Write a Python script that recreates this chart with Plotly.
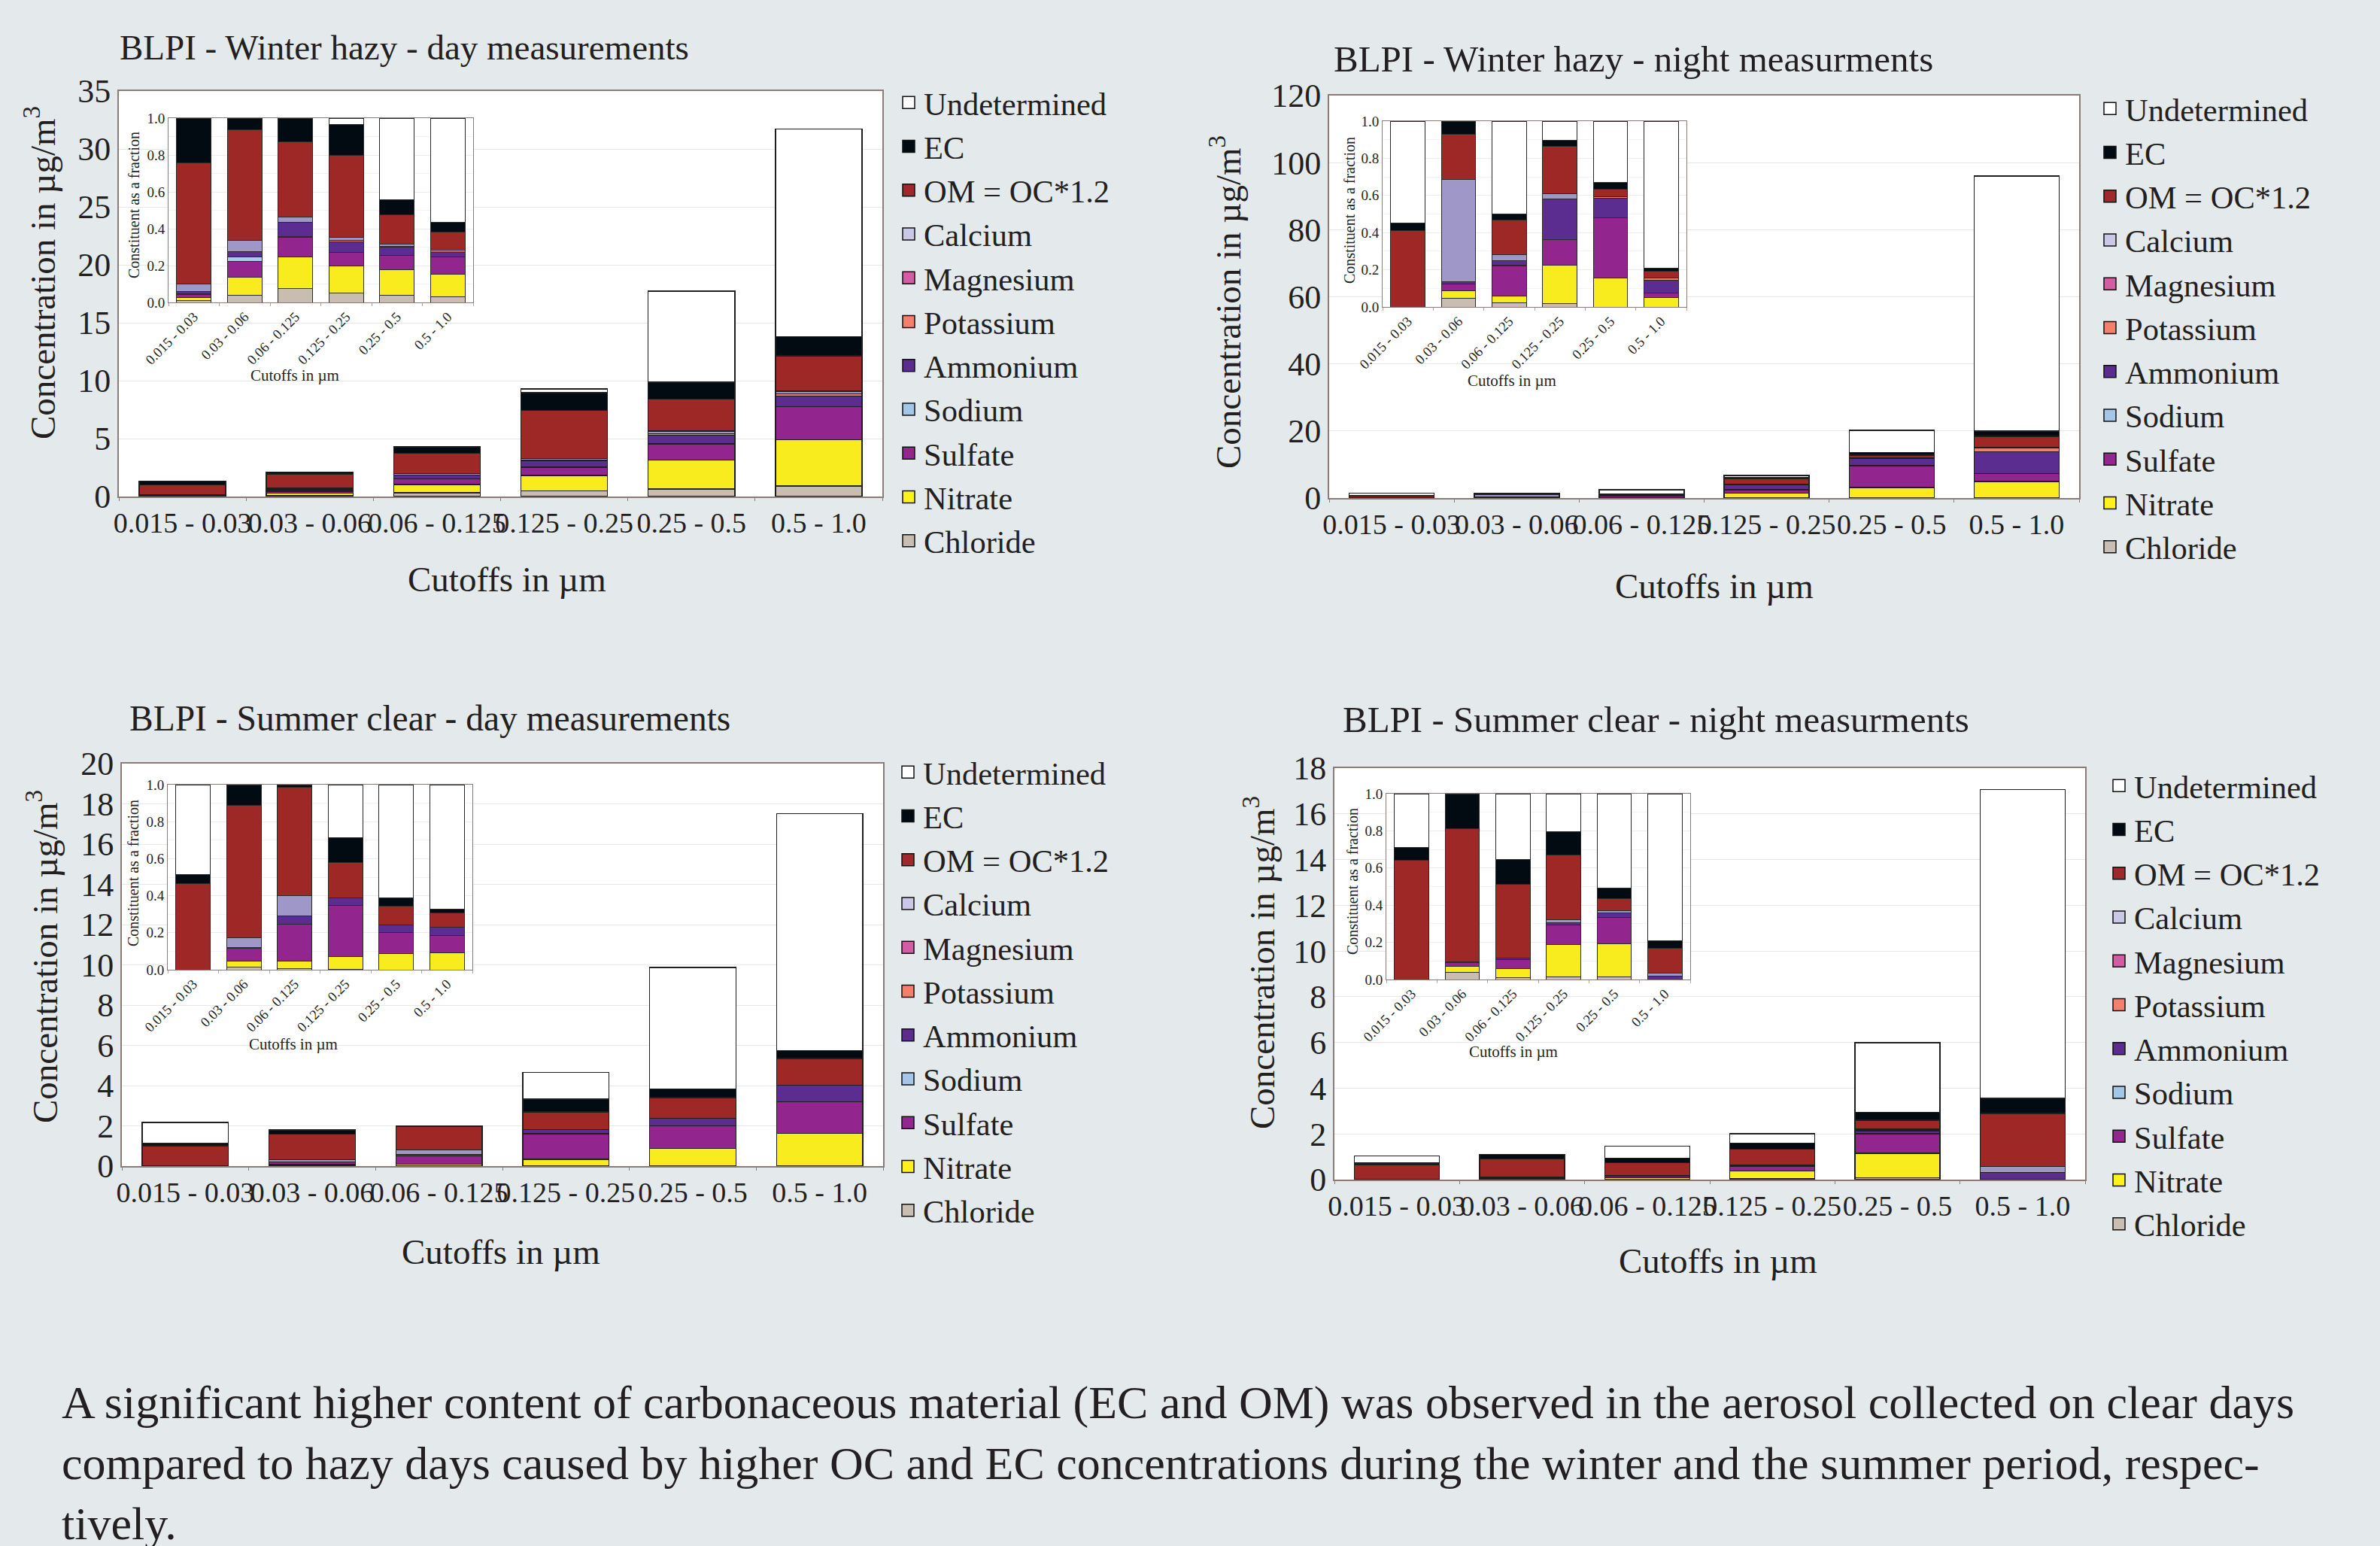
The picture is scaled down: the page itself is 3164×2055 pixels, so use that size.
import numpy as np
import plotly.graph_objects as go

W, H = 3164, 2055
SERIF = "Liberation Serif"
INK = "#231F20"
FRAME = "#8C7C78"

cutoffs = ["0.015 - 0.03", "0.03 - 0.06", "0.06 - 0.125",
           "0.125 - 0.25", "0.25 - 0.5", "0.5 - 1.0"]

# stacking order, bottom to top
constituents = ["Chloride", "Nitrate", "Sulfate", "Sodium", "Ammonium",
                "Potassium", "Magnesium", "Calcium", "OM = OC*1.2", "EC",
                "Undetermined"]

bar_colors = {
    "Chloride": "#C8BDB0", "Nitrate": "#F8EC1E", "Sulfate": "#93268E",
    "Sodium": "#A8CCEA", "Ammonium": "#5B2D90", "Potassium": "#F28068",
    "Magnesium": "#D25EA6", "Calcium": "#A097C9", "OM = OC*1.2": "#9E2825",
    "EC": "#020B12", "Undetermined": "#FFFFFF",
}
legend_colors = {
    "Chloride": "#C9BEB1", "Nitrate": "#FFF21C", "Sulfate": "#93278F",
    "Sodium": "#A4C6E8", "Ammonium": "#5B2C8E", "Potassium": "#F47F6B",
    "Magnesium": "#D35DA5", "Calcium": "#C9C8E6", "OM = OC*1.2": "#A1282A",
    "EC": "#000A12", "Undetermined": "#FFFFFF",
}

# concentrations in ug/m3, one value per cutoff
winter_day = {
    "Chloride":     [0.011, 0.082, 0.330, 0.493, 0.656, 0.920],
    "Nitrate":      [0.024, 0.206, 0.725, 1.330, 2.482, 3.995],
    "Sulfate":      [0.022, 0.183, 0.459, 0.716, 1.418, 2.854],
    "Sodium":       [0.007, 0.044, 0.017, 0.0, 0.0, 0.0],
    "Ammonium":     [0.016, 0.061, 0.335, 0.530, 0.745, 0.888],
    "Potassium":    [0.0, 0.0, 0.0, 0.056, 0.124, 0.222],
    "Magnesium":    [0.0, 0.0, 0.0, 0.0, 0.0, 0.0],
    "Calcium":      [0.053, 0.134, 0.116, 0.158, 0.213, 0.222],
    "OM = OC*1.2":  [0.869, 1.254, 1.759, 4.148, 2.766, 3.044],
    "EC":           [0.319, 0.137, 0.549, 1.544, 1.472, 1.649],
    "Undetermined": [0.0, 0.0, 0.0, 0.326, 7.854, 17.916],
}
winter_night = {
    "Chloride":     [0.0, 0.068, 0.054, 0.121, 0.0, 0.0],
    "Nitrate":      [0.0, 0.059, 0.091, 1.387, 3.171, 4.896],
    "Sulfate":      [0.0, 0.052, 0.397, 0.918, 6.525, 2.400],
    "Sodium":       [0.0, 0.0, 0.010, 0.0, 0.0, 0.0],
    "Ammonium":     [0.0, 0.020, 0.056, 1.474, 2.141, 6.528],
    "Potassium":    [0.0, 0.0, 0.0, 0.0, 0.121, 1.248],
    "Magnesium":    [0.0, 0.0, 0.0, 0.0, 0.0, 0.0],
    "Calcium":      [0.0, 0.796, 0.081, 0.188, 0.0, 0.0],
    "OM = OC*1.2":  [0.595, 0.354, 0.456, 1.709, 0.828, 3.360],
    "EC":           [0.062, 0.100, 0.083, 0.208, 0.768, 1.536],
    "Undetermined": [0.793, 0.0, 1.223, 0.697, 6.646, 76.032],
}
summer_day = {
    "Chloride":     [0.0, 0.025, 0.014, 0.019, 0.0, 0.0],
    "Nitrate":      [0.0, 0.056, 0.076, 0.316, 0.878, 1.628],
    "Sulfate":      [0.0, 0.126, 0.408, 1.274, 1.125, 1.576],
    "Sodium":       [0.0, 0.0, 0.0, 0.0, 0.0, 0.0],
    "Ammonium":     [0.0, 0.007, 0.082, 0.205, 0.375, 0.823],
    "Potassium":    [0.0, 0.0, 0.0, 0.0, 0.0, 0.0],
    "Magnesium":    [0.0, 0.0, 0.0, 0.0, 0.0, 0.0],
    "Calcium":      [0.0, 0.095, 0.227, 0.0, 0.0, 0.0],
    "OM = OC*1.2":  [1.009, 1.289, 1.170, 0.884, 1.017, 1.313],
    "EC":           [0.104, 0.202, 0.032, 0.623, 0.434, 0.403],
    "Undetermined": [1.048, 0.0, 0.0, 1.330, 6.040, 11.767],
}
summer_night = {
    "Chloride":     [0.0, 0.043, 0.016, 0.028, 0.084, 0.0],
    "Nitrate":      [0.0, 0.034, 0.070, 0.348, 1.072, 0.0],
    "Sulfate":      [0.0, 0.024, 0.072, 0.214, 0.845, 0.0],
    "Sodium":       [0.0, 0.0, 0.0, 0.0, 0.0, 0.0],
    "Ammonium":     [0.0, 0.003, 0.012, 0.020, 0.138, 0.307],
    "Potassium":    [0.0, 0.0, 0.0, 0.0, 0.0, 0.0],
    "Magnesium":    [0.0, 0.0, 0.0, 0.0, 0.0, 0.0],
    "Calcium":      [0.0, 0.0, 0.0, 0.034, 0.072, 0.273],
    "OM = OC*1.2":  [0.660, 0.796, 0.577, 0.694, 0.389, 2.322],
    "EC":           [0.072, 0.209, 0.197, 0.252, 0.347, 0.649],
    "Undetermined": [0.298, 0.0, 0.517, 0.410, 3.043, 13.519],
}

titles = ["BLPI - Winter hazy - day measurements",
          "BLPI - Winter hazy - night measurments",
          "BLPI - Summer clear - day measurements",
          "BLPI - Summer clear - night measurments"]
y_max = [35, 120, 20, 18]
y_step = [5, 20, 2, 2]

caption = ("A significant higher content of carbonaceous material (EC and OM) was observed in the aerosol collected on clear days<br>"
           "compared to hazy days caused by higher OC and EC concentrations during the winter and the summer period, respec-<br>"
           "tively.")

# page layout, in pixels: (left, right, top, bottom)
panels = [
    dict(data=winter_day, main=(158, 1173, 121, 660), inset=(224, 629, 157, 402),
         title_xy=(157, 63), title_size=47, ytitle_xy=(54, 363), xtitle_xy=(674, 770),
         iytitle_xy=(178, 273), ixtitle_xy=(392, 499), legend_xy=(1188, 102)),
    dict(data=winter_night, main=(1767, 2764, 127, 662), inset=(1838, 2242, 161, 408),
         title_xy=(1771, 79), title_size=49, ytitle_xy=(1630, 402), xtitle_xy=(2279, 779),
         iytitle_xy=(1794, 279), ixtitle_xy=(2010, 506), legend_xy=(2785, 110)),
    dict(data=summer_day, main=(162, 1174, 1015, 1550), inset=(223, 628, 1043, 1289),
         title_xy=(170, 955), title_size=47.5, ytitle_xy=(56, 1272), xtitle_xy=(666, 1664),
         iytitle_xy=(177, 1161), ixtitle_xy=(390, 1388), legend_xy=(1187, 992)),
    dict(data=summer_night, main=(1774, 2772, 1021, 1568), inset=(1843, 2247, 1055, 1302),
         title_xy=(1783, 957), title_size=49, ytitle_xy=(1674, 1280), xtitle_xy=(2284, 1676),
         iytitle_xy=(1798, 1172), ixtitle_xy=(2012, 1398), legend_xy=(2797, 1010)),
]


def px(x):
    return x / W


def py(y):
    return 1 - y / H


def axis_ids(n):
    return ("x" if n == 1 else f"x{n}"), ("y" if n == 1 else f"y{n}")


fig = go.Figure()
layout = {}
annotations = []

for k, p in enumerate(panels):
    data = p["data"]
    m, n = 2 * k + 1, 2 * k + 2
    mx, my = axis_ids(m)
    ix, iy = axis_ids(n)
    totals = np.sum([data[c] for c in constituents], axis=0)

    for c in constituents:
        vals = np.array(data[c], dtype=float)
        main_y = [v if v > 0 else None for v in vals]
        frac_y = [v if v > 0 else None for v in vals / totals]
        fig.add_bar(x=cutoffs, y=main_y, xaxis=mx, yaxis=my, name=c,
                    marker=dict(color=bar_colors[c], line=dict(color="#1E1E1E", width=1.5)),
                    showlegend=False)
        fig.add_bar(x=cutoffs, y=frac_y, xaxis=ix, yaxis=iy, name=c,
                    marker=dict(color=bar_colors[c], line=dict(color="#2A2A2A", width=1)),
                    showlegend=False)

    leg_id = "legend" if k == 0 else f"legend{k + 1}"
    for c in constituents[::-1]:
        fig.add_scatter(x=[None], y=[None], xaxis=mx, yaxis=my, mode="markers", name=c,
                        legend=leg_id, showlegend=True,
                        marker=dict(symbol="square", size=16, color=legend_colors[c],
                                    line=dict(color="#111111", width=1.5)))
    lx, ly = p["legend_xy"]
    layout["legend" if k == 0 else f"legend{k + 1}"] = dict(
        x=px(lx), y=py(ly), xanchor="left", yanchor="top", traceorder="normal",
        bgcolor="rgba(0,0,0,0)", borderwidth=0,
        font=dict(family=SERIF, size=42.5, color=INK))

    l, r, t, b = p["main"]
    xkey = "xaxis" if m == 1 else f"xaxis{m}"
    ykey = "yaxis" if m == 1 else f"yaxis{m}"
    layout[xkey] = dict(domain=[px(l), px(r)], anchor=my, type="category",
                        categoryorder="array", categoryarray=cutoffs, range=[-0.5, 5.5],
                        tickangle=0, tickfont=dict(family=SERIF, size=38, color=INK),
                        ticks="outside", tickson="boundaries", ticklen=4, tickcolor=FRAME,
                        showline=True, linecolor=FRAME, linewidth=2, mirror=True,
                        showgrid=False, fixedrange=True)
    layout[ykey] = dict(domain=[py(b), py(t)], anchor=mx, range=[0, y_max[k]],
                        tick0=0, dtick=y_step[k], ticks="",
                        tickfont=dict(family=SERIF, size=44, color=INK),
                        showgrid=True, gridcolor="#E8E8E8", gridwidth=1,
                        showline=True, linecolor=FRAME, linewidth=2, mirror=True,
                        zeroline=False, fixedrange=True)

    l, r, t, b = p["inset"]
    xkey = f"xaxis{n}"
    ykey = f"yaxis{n}"
    layout[xkey] = dict(domain=[px(l), px(r)], anchor=iy, type="category",
                        categoryorder="array", categoryarray=cutoffs, range=[-0.5, 5.5],
                        tickangle=-45, tickfont=dict(family=SERIF, size=18.5, color=INK),
                        ticks="outside", tickson="boundaries", ticklen=4, tickcolor="#B0A8A5",
                        showline=True, linecolor=FRAME, linewidth=1, mirror=True,
                        showgrid=False, fixedrange=True)
    layout[ykey] = dict(domain=[py(b), py(t)], anchor=ix, range=[0, 1],
                        tick0=0, dtick=0.2, tickformat=".1f", ticks="",
                        tickfont=dict(family=SERIF, size=19, color=INK),
                        showgrid=True, gridcolor="#EDEDED", gridwidth=1,
                        minor=dict(dtick=0.1, showgrid=True, gridcolor="#F3F3F3"),
                        showline=True, linecolor=FRAME, linewidth=1, mirror=True,
                        zeroline=False, fixedrange=True)

    tx, ty = p["title_xy"]
    annotations.append(dict(text=titles[k], x=px(tx), y=py(ty), xref="paper", yref="paper",
                            xanchor="left", yanchor="middle", showarrow=False,
                            font=dict(family=SERIF, size=p["title_size"], color=INK)))
    ax_, ay_ = p["ytitle_xy"]
    annotations.append(dict(text="Concentration in µg/m<sup>3</sup>", x=px(ax_), y=py(ay_),
                            xref="paper", yref="paper", xanchor="center", yanchor="middle",
                            textangle=-90, showarrow=False,
                            font=dict(family=SERIF, size=47, color=INK)))
    ax_, ay_ = p["xtitle_xy"]
    annotations.append(dict(text="Cutoffs in µm", x=px(ax_), y=py(ay_),
                            xref="paper", yref="paper", xanchor="center", yanchor="middle",
                            showarrow=False, font=dict(family=SERIF, size=47, color=INK)))
    ax_, ay_ = p["iytitle_xy"]
    annotations.append(dict(text="Constituent as a fraction", x=px(ax_), y=py(ay_),
                            xref="paper", yref="paper", xanchor="center", yanchor="middle",
                            textangle=-90, showarrow=False,
                            font=dict(family=SERIF, size=20, color=INK)))
    ax_, ay_ = p["ixtitle_xy"]
    annotations.append(dict(text="Cutoffs in µm", x=px(ax_), y=py(ay_),
                            xref="paper", yref="paper", xanchor="center", yanchor="middle",
                            showarrow=False, font=dict(family=SERIF, size=21, color=INK)))

annotations.append(dict(text=caption, x=px(80), y=py(1944), xref="paper", yref="paper",
                        xanchor="left", yanchor="middle", align="left", showarrow=False,
                        font=dict(family=SERIF, size=62, color=INK)))

fig.update_layout(
    width=W, height=H, margin=dict(l=0, r=0, t=0, b=0, autoexpand=False),
    paper_bgcolor="#E4E9EC", plot_bgcolor="#FFFFFF",
    barmode="stack", bargap=0.32,
    font=dict(family=SERIF, color=INK),
    annotations=annotations, hovermode=False,
    **layout,
)

fig.write_html("out.html")
